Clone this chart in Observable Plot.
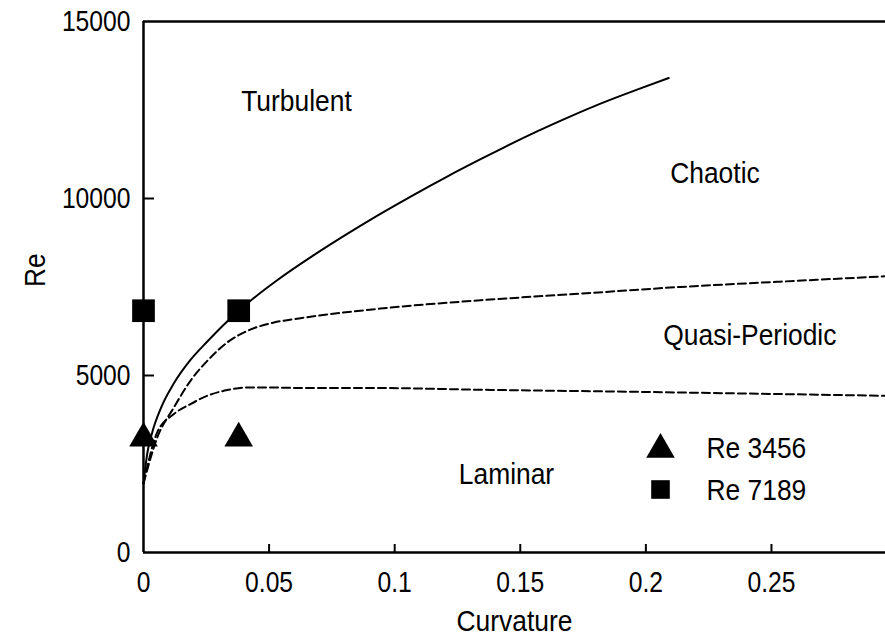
<!DOCTYPE html>
<html><head><meta charset="utf-8">
<script src="https://cdn.jsdelivr.net/npm/d3@7"></script>
<script src="https://cdn.jsdelivr.net/npm/@observablehq/plot@0.6"></script>
<style>
body{margin:0;background:#fff;}
#chart svg{display:block}
</style></head><body><div id="chart"></div>
<script>
// Tick labels
const xTicks = [0, 0.05, 0.1, 0.15, 0.2, 0.25];
const yTicks = [0, 5000, 10000, 15000];

// Solid boundary (Turbulent / Chaotic)
const solidX  = [0, 0.0015, 0.0035, 0.0068, 0.0121, 0.0187, 0.0254, 0.0334, 0.0379, 0.0426, 0.0532, 0.0678, 0.0811, 0.0943, 0.1076, 0.1209, 0.1342, 0.1434, 0.1567, 0.1700, 0.1832, 0.1965, 0.2091];
const solidRe = [1950, 2800, 3400, 4060, 4780, 5440, 5960, 6535, 6824, 7110, 7690, 8400, 9000, 9565, 10105, 10620, 11110, 11440, 11895, 12320, 12715, 13075, 13403];

// Upper dashed boundary (Chaotic / Quasi-Periodic)
const upperX  = [0, 0.0055, 0.0121, 0.0187, 0.0254, 0.0333, 0.0413, 0.0519, 0.0625, 0.0943, 0.1342, 0.1740, 0.2138, 0.2536, 0.2954];
const upperRe = [1950, 3250, 4097, 4850, 5414, 5930, 6260, 6495, 6619, 6890, 7126, 7312, 7501, 7651, 7803];

// Lower dashed boundary (Quasi-Periodic / Laminar)
const lowerX  = [0, 0.0055, 0.0121, 0.0187, 0.0254, 0.0333, 0.0413, 0.0519, 0.0625, 0.0943, 0.1342, 0.1740, 0.2138, 0.2536, 0.2954];
const lowerRe = [1950, 3400, 3911, 4193, 4427, 4588, 4661, 4661, 4645, 4645, 4597, 4560, 4520, 4475, 4427];

// Experimental points
const pointX     = [0, 0.0379];
const triangleRe = [3230, 3230];
const squareRe   = [6830, 6830];

// Region labels
const regionLabels = ["Turbulent", "Chaotic", "Quasi-Periodic", "Laminar"];
const regionX  = [0.0609, 0.2275, 0.2414, 0.1445];
const regionRe = [12746, 10688, 6119, 2200];

// Legend
const legendLabels = ["Re 3456", "Re 7189"];

const FONT = '"Liberation Sans Narrow", "Arial Narrow", "Liberation Sans", Arial, sans-serif';
const FS = 29;

const toPts = (xs, ys) => xs.map((x, i) => ({x, y: ys[i]}));

const chart = Plot.plot({
  width: 885, height: 638,
  marginLeft: 143, marginRight: 0, marginTop: 21, marginBottom: 86,
  style: {fontFamily: FONT, fontSize: FS + "px", color: "#000", background: "#fff", overflow: "visible"},
  x: {domain: [0, 0.2954]},
  y: {domain: [0, 15000]},
  marks: [
    // tick labels
    Plot.axisX(xTicks, {tickSize: 0, tickPadding: 19, tickFormat: d => String(d), label: null, fontSize: FS}),
    Plot.axisY(yTicks, {tickSize: 0, tickPadding: 13, tickFormat: d => String(d), label: null, fontSize: FS}),
    // inward ticks
    Plot.axisX(xTicks.slice(1), {tickSize: -8, strokeWidth: 2, tickFormat: () => "", label: null}),
    Plot.axisY(yTicks.slice(1, 3), {tickSize: -11, strokeWidth: 2, tickFormat: () => "", label: null}),
    // frame lines
    Plot.ruleX([0], {stroke: "#000", strokeWidth: 2.5}),
    Plot.ruleY([0], {stroke: "#000", strokeWidth: 2.5}),
    Plot.ruleY([15000], {stroke: "#000", strokeWidth: 2.5}),
    // axis titles
    Plot.text(["Curvature"], {frameAnchor: "bottom", lineAnchor: "middle", dy: 69, text: d => d, fontSize: FS}),
    Plot.text(["Re"], {frameAnchor: "left", lineAnchor: "middle", dx: -108, rotate: -90, text: d => d, fontSize: FS}),
    // curves
    Plot.line(toPts(solidX, solidRe), {x: "x", y: "y", stroke: "#000", strokeWidth: 2, curve: "monotone-x"}),
    Plot.line(toPts(upperX, upperRe), {x: "x", y: "y", stroke: "#000", strokeWidth: 2, strokeDasharray: "8,4", curve: "monotone-x"}),
    Plot.line(toPts(lowerX, lowerRe), {x: "x", y: "y", stroke: "#000", strokeWidth: 2, strokeDasharray: "8,4", curve: "monotone-x"}),
    // points
    Plot.dot(toPts(pointX, triangleRe), {x: "x", y: "y", symbol: "triangle", r: 10.6, fill: "#000", stroke: "none"}),
    Plot.dot(toPts(pointX, squareRe), {x: "x", y: "y", symbol: "square", r: 12.8, fill: "#000", stroke: "none"}),
    // region labels
    Plot.text(regionLabels, {x: (d, i) => regionX[i], y: (d, i) => regionRe[i], text: d => d, fontSize: FS}),
    // legend
    Plot.dot([legendLabels[0]], {frameAnchor: "top-left", dx: 517, dy: 428, symbol: "triangle", r: 10.6, fill: "#000", stroke: "none"}),
    Plot.text([legendLabels[0]], {frameAnchor: "top-left", lineAnchor: "middle", dx: 563, dy: 427, text: d => d, textAnchor: "start", fontSize: FS}),
    Plot.dot([legendLabels[1]], {frameAnchor: "top-left", dx: 517, dy: 468, symbol: "square", r: 10.5, fill: "#000", stroke: "none"}),
    Plot.text([legendLabels[1]], {frameAnchor: "top-left", lineAnchor: "middle", dx: 563, dy: 469, text: d => d, textAnchor: "start", fontSize: FS})
  ]
});
document.getElementById("chart").appendChild(chart);

// Condense the glyphs horizontally to mimic the reference's narrow typeface
chart.querySelectorAll("text").forEach(t => {
  const s = t.textContent;
  if (!s) return;
  const len = t.getComputedTextLength();
  if (!len) return;
  const f = /^[\d.\s]+$/.test(s) ? 0.85 : 0.91;
  t.setAttribute("textLength", (len * f).toFixed(1));
  t.setAttribute("lengthAdjust", "spacingAndGlyphs");
});
</script></body></html>
